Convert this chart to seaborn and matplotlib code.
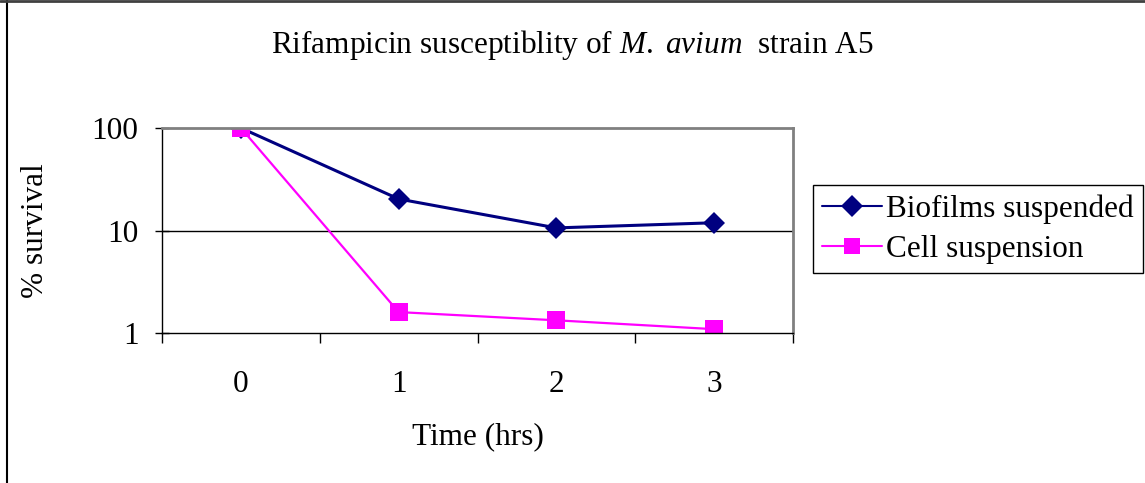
import pandas as pd
import matplotlib
matplotlib.use("Agg")
import matplotlib.pyplot as plt
import seaborn as sns
from matplotlib.ticker import FixedLocator, NullFormatter, FixedFormatter

# data
time_hrs = [0, 1, 2, 3]
biofilms_suspended = [100, 20.3, 10.6, 11.9]
cell_suspension = [100, 1.6, 1.33, 1.09]
series_names = ["Biofilms suspended", "Cell suspension"]

df = pd.concat([
    pd.DataFrame({"Time": time_hrs, "Survival": biofilms_suspended, "Series": series_names[0]}),
    pd.DataFrame({"Time": time_hrs, "Survival": cell_suspension, "Series": series_names[1]}),
])

sns.set_theme(style="white")
plt.rcParams["font.family"] = ["Liberation Serif", "DejaVu Serif"]
plt.rcParams["mathtext.fontset"] = "custom"
plt.rcParams["mathtext.rm"] = "Liberation Serif"
plt.rcParams["mathtext.it"] = "Liberation Serif:italic"
plt.rcParams["text.color"] = "black"
plt.rcParams["axes.labelcolor"] = "black"
plt.rcParams["xtick.color"] = "black"
plt.rcParams["ytick.color"] = "black"

fs = 22.5

fig = plt.figure(figsize=(11.45, 4.83), dpi=100)
ax = fig.add_axes([162 / 1145, 150 / 483, 631 / 1145, 205 / 483])

sns.lineplot(data=df, x="Time", y="Survival", hue="Series", style="Series",
             palette={series_names[0]: "#000080", series_names[1]: "#FF00FF"},
             markers={series_names[0]: "D", series_names[1]: "s"},
             dashes=False, markersize=11, markeredgewidth=0, ax=ax)
for line, lw in zip(ax.lines, [2.2, 1.6]):
    line.set_linewidth(lw)
ax.lines[1].set_markersize(13)

ax.set_yscale("log")
ax.set_ylim(1, 100)
ax.set_xlim(-0.5, 3.5)
ax.yaxis.set_major_locator(FixedLocator([1, 10, 100]))
ax.yaxis.set_major_formatter(FixedFormatter(["1", "10", "100"]))
ax.yaxis.set_minor_locator(FixedLocator([]))
ax.xaxis.set_major_locator(FixedLocator([-0.5, 0.5, 1.5, 2.5, 3.5]))
ax.xaxis.set_major_formatter(NullFormatter())
ax.xaxis.set_minor_locator(FixedLocator(time_hrs))
ax.xaxis.set_minor_formatter(FixedFormatter([str(t) for t in time_hrs]))

ax.grid(False)
ax.axhline(10, color="black", linewidth=1, zorder=0)

ax.tick_params(axis="y", which="major", direction="inout", length=10, width=1,
               color="black", labelsize=fs, pad=12, left=True)
ax.tick_params(axis="x", which="major", direction="out", length=7, width=1,
               color="black", bottom=True)
ax.tick_params(axis="x", which="minor", length=0, labelsize=fs, pad=27)

for side in ["top", "right"]:
    ax.spines[side].set_color("#808080")
    ax.spines[side].set_linewidth(2)
for side in ["left", "bottom"]:
    ax.spines[side].set_color("black")
    ax.spines[side].set_linewidth(1)

ax.set_xlabel("Time (hrs)", fontsize=fs, labelpad=16)
ax.set_ylabel("% survival", fontsize=fs, labelpad=30)

fig.text(0.5, 1 - 45 / 483, r"Rifampicin susceptiblity of $\mathit{M.}$ $\mathit{avium}$  strain A5",
         ha="center", va="center", fontsize=fs)

handles, labels = ax.get_legend_handles_labels()
ax.legend(handles, labels, loc="upper left", bbox_to_anchor=(813 / 1145, 1 - 185 / 483),
          bbox_transform=fig.transFigure, fontsize=fs, frameon=True, fancybox=False,
          edgecolor="black", framealpha=1, borderpad=0.3, labelspacing=0.35,
          handlelength=1.9, handletextpad=0.15, borderaxespad=0)
ax.get_legend().get_frame().set_linewidth(1)

# outer chart frame (top and left edges visible in the reference)
fig.add_artist(plt.Line2D([7 / 1145, 7 / 1145], [0, 1], color="black", linewidth=1.5,
                          transform=fig.transFigure))
fig.add_artist(plt.Line2D([0, 1], [1 - 1 / 483, 1 - 1 / 483], color="#404040", linewidth=2,
                          transform=fig.transFigure))

fig.savefig("out.png", dpi=100)
